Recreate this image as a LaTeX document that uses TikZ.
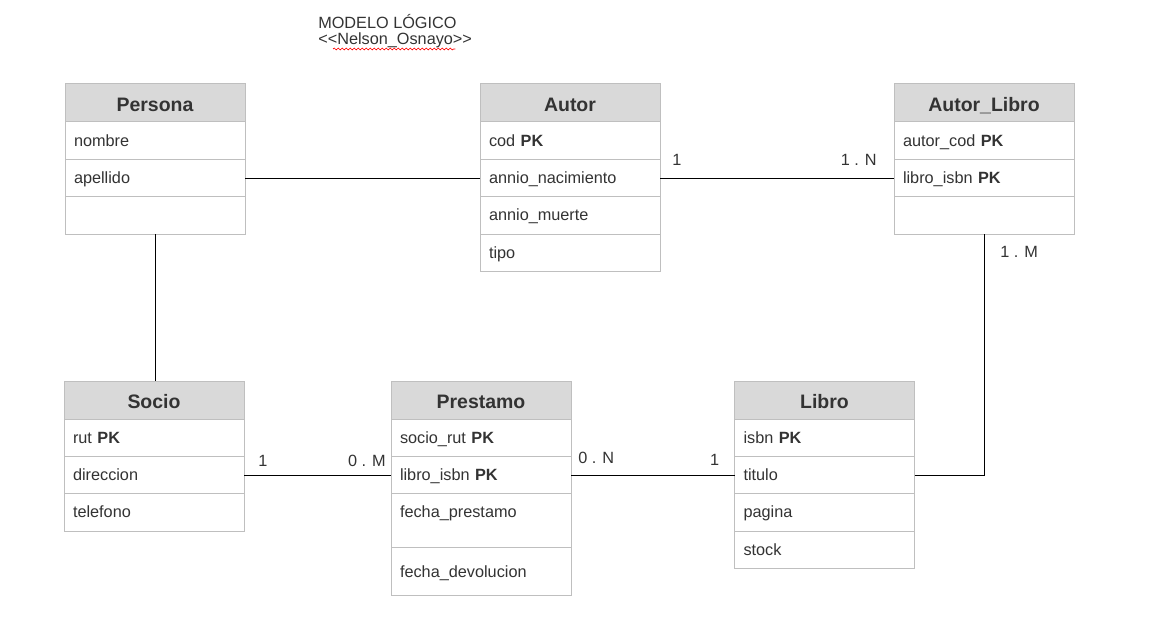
\documentclass[tikz,border=0pt]{standalone}
\usepackage{fontspec}
\setmainfont{Liberation Sans}
\usetikzlibrary{positioning, calc, decorations.pathmorphing}

\begin{document}
\begin{tikzpicture}[
  x=0.75pt, y=-0.75pt,
  header/.style={draw=gray!50, fill=gray!30, line width=0.75pt, minimum width=135pt,
                 minimum height=28.5pt, inner sep=0pt, outer sep=0pt, text height=14pt,
                 text depth=0.6pt, text=black!80, font=\fontsize{14.6}{17}\selectfont\bfseries},
  field/.style={draw=gray!50, fill=white, line width=0.75pt, text width=121.5pt,
                inner xsep=6.75pt, inner ysep=0pt, outer sep=0pt, minimum height=28.05pt,
                align=left, text height=10.5pt, text depth=2.3pt, text=black!80,
                font=\fontsize{12.2}{14}\selectfont},
  tallfield/.style={field, minimum height=40.3pt, text depth=14.8pt},
  conn/.style={draw=black, line width=0.75pt},
  lbl/.style={inner sep=0pt, text=black!80, font=\fontsize{12.2}{14}\selectfont},
]
\useasboundingbox (0,0) rectangle (1173,623);

% --- Title ---
\node[lbl, anchor=base west] (title)  at (318,29) {MODELO LÓGICO};
\node[lbl, anchor=base west] (author) at (318,45) {<{}<Nelson\_Osnayo>{}>};
\draw[red, line width=0.5pt, decorate, decoration={snake, amplitude=0.7pt, segment length=3pt}]
  ($(author.base west)+(15,4)$) -- ($(author.base east)+(-17,4)$);

% --- Persona ---
\node[header] (persona) at (155,103) {Persona};
\node[field, below=0pt of persona]  (persona1) {nombre};
\node[field, below=0pt of persona1] (persona2) {apellido};
\node[field, below=0pt of persona2] (persona3) {};

% --- Autor ---
\node[header] (autor) at (570,103) {Autor};
\node[field, below=0pt of autor]  (autor1) {cod \textbf{PK}};
\node[field, below=0pt of autor1] (autor2) {annio\_nacimiento};
\node[field, below=0pt of autor2] (autor3) {annio\_muerte};
\node[field, below=0pt of autor3] (autor4) {tipo};

% --- Autor_Libro ---
\node[header] (autorlibro) at (984,103) {Autor\_Libro};
\node[field, below=0pt of autorlibro]  (autorlibro1) {autor\_cod \textbf{PK}};
\node[field, below=0pt of autorlibro1] (autorlibro2) {libro\_isbn \textbf{PK}};
\node[field, below=0pt of autorlibro2] (autorlibro3) {};

% --- Socio ---
\node[header] (socio) at (154,400) {Socio};
\node[field, below=0pt of socio]  (socio1) {rut \textbf{PK}};
\node[field, below=0pt of socio1] (socio2) {direccion};
\node[field, below=0pt of socio2] (socio3) {telefono};

% --- Prestamo ---
\node[header] (prestamo) at (481,400) {Prestamo};
\node[field, below=0pt of prestamo]  (prestamo1) {socio\_rut \textbf{PK}};
\node[field, below=0pt of prestamo1] (prestamo2) {libro\_isbn \textbf{PK}};
\node[tallfield, below=0pt of prestamo2] (prestamo3) {fecha\_prestamo};
\node[field, minimum height=36.2pt, below=0pt of prestamo3] (prestamo4) {fecha\_devolucion};

% --- Libro ---
\node[header] (libro) at (824.5,400) {Libro};
\node[field, below=0pt of libro]  (libro1) {isbn \textbf{PK}};
\node[field, below=0pt of libro1] (libro2) {titulo};
\node[field, below=0pt of libro2] (libro3) {pagina};
\node[field, below=0pt of libro3] (libro4) {stock};

% --- Relations ---
\draw[conn] (persona2.east) -- (autor2.west);
\draw[conn] (persona3.south) -- (persona3.south |- socio.north);

\draw[conn] (autor2.east) -- (autorlibro2.west);
\node[lbl, anchor=base west] at ($(autor2.east)+(12,-13)$) {1};
\node[lbl, anchor=base east] at ($(autorlibro2.west)+(-17,-13)$) {1 . N};

\draw[conn] (socio2.east) -- (prestamo2.west);
\node[lbl, anchor=base west] at ($(socio2.east)+(14,-9)$) {1};
\node[lbl, anchor=base east] at ($(prestamo2.west)+(-5,-9)$) {0 . M};

\draw[conn] (prestamo2.east) -- (libro2.west);
\node[lbl, anchor=base west] at ($(prestamo2.east)+(7,-12)$) {0 . N};
\node[lbl, anchor=base east] at ($(libro2.west)+(-15,-10)$) {1};

\draw[conn] (libro2.east) -| (autorlibro3.south);
\node[lbl, anchor=base west] at ($(autorlibro3.south)+(16,23)$) {1 . M};

\end{tikzpicture}
\end{document}
